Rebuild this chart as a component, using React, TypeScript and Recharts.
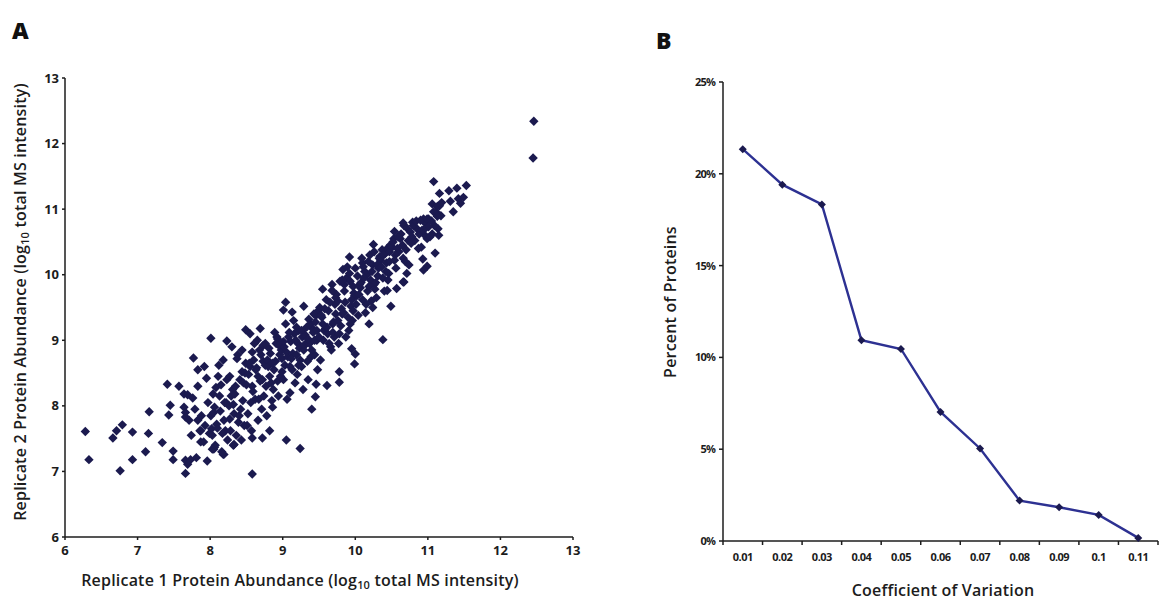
import React from 'react';
import { ScatterChart, Scatter, XAxis, YAxis, LineChart, Line } from 'recharts';

// panel A: replicate 1 vs replicate 2 abundance (log10)
const abundanceTicks = [6, 7, 8, 9, 10, 11, 12, 13];

const lowTailPoints: [number, number][] = [
  [6.28, 7.61], [6.33, 7.18], [6.66, 7.51], [6.71, 7.62], [6.79, 7.71], [6.76, 7.01], [6.93, 7.6], [6.93, 7.18],
  [7.15, 7.58], [7.11, 7.3], [7.16, 7.91], [7.34, 7.44], [7.41, 8.33], [7.45, 8.01], [7.43, 7.86], [7.57, 8.3],
  [7.49, 7.31], [7.49, 7.18], [7.64, 8.18], [7.69, 8.17], [7.64, 7.98], [7.66, 7.9], [7.66, 7.83], [7.66, 7.17],
  [7.73, 7.18], [7.81, 7.21], [7.69, 7.11], [7.66, 6.97], [7.96, 7.16], [8.03, 7.34], [8.06, 7.37], [8.18, 7.26],
  [8.32, 7.4], [7.87, 7.45], [7.87, 7.62], [7.83, 7.78], [8.58, 6.96], [8.01, 9.03], [8.23, 8.99], [7.77, 8.73],
  [7.83, 8.55], [7.92, 8.6], [8.49, 9.16], [8.55, 9.1], [8.69, 9.18], [8.33, 7.41], [8.19, 7.26], [8.05, 7.34],
  [8.58, 7.51], [8.72, 7.51], [8.82, 7.62], [9.05, 7.48], [9.24, 7.35], [9.4, 7.95], [9.46, 8.33], [9.61, 8.31],
  [9.45, 8.14], [9.78, 8.52], [9.78, 8.36],
];

const bandPoints: [number, number][] = [
  [7.74, 7.55], [7.71, 7.78], [7.79, 7.95], [7.76, 8.12], [7.86, 7.62], [7.83, 8.3], [7.91, 7.45], [7.88, 7.85],
  [7.97, 8.05], [7.93, 7.7], [7.95, 8.42], [7.99, 7.58],
  [8.07, 7.4], [8.02, 7.65], [8.14, 7.92], [8.04, 8.18], [8.11, 8.45], [8.19, 7.78], [8.03, 7.55], [8.22, 8.05],
  [8.16, 7.3], [8.08, 8.28], [8.01, 7.85], [8.21, 7.62], [8.12, 8.62], [8.06, 7.98], [8.24, 7.48], [8.13, 8.15],
  [8.09, 7.72], [8.23, 8.4], [8.17, 7.58], [8.05, 7.9], [8.18, 8.7], [8.2, 8.05], [8.1, 7.66], [8.15, 8.32],
  [8.31, 8.25], [8.27, 7.8], [8.44, 8.52], [8.36, 7.55], [8.26, 8.0], [8.38, 8.78], [8.47, 7.7], [8.29, 8.15],
  [8.41, 8.4], [8.33, 7.88], [8.49, 8.65], [8.28, 7.62], [8.45, 8.08], [8.35, 8.3], [8.42, 7.95], [8.3, 8.9],
  [8.39, 7.75], [8.48, 8.5], [8.34, 8.18], [8.43, 7.48], [8.37, 8.72], [8.32, 8.02], [8.46, 8.35], [8.4, 7.85],
  [8.27, 8.45], [8.44, 8.85],
  [8.55, 8.6], [8.62, 8.1], [8.51, 7.7], [8.68, 8.85], [8.58, 8.3], [8.71, 7.95], [8.53, 8.48], [8.65, 9.0],
  [8.74, 8.15], [8.57, 7.62], [8.6, 8.7], [8.69, 8.38], [8.52, 7.88], [8.73, 8.92], [8.63, 8.55], [8.56, 8.05],
  [8.7, 8.78], [8.59, 8.22], [8.66, 7.78], [8.54, 8.65], [8.72, 8.4], [8.61, 8.95], [8.67, 8.1], [8.64, 8.58],
  [8.5, 8.32], [8.73, 8.68], [8.58, 8.82], [8.66, 8.45],
  [8.83, 8.8], [8.77, 8.3], [8.92, 9.05], [8.86, 7.98], [8.76, 8.62], [8.97, 8.45], [8.81, 8.88], [8.94, 8.15],
  [8.79, 8.7], [8.89, 9.12], [8.99, 8.52], [8.78, 7.85], [8.91, 8.95], [8.84, 8.35], [8.96, 8.78], [8.8, 8.6],
  [8.93, 9.02], [8.87, 8.25], [8.98, 8.85], [8.82, 8.45], [8.9, 8.68], [8.85, 8.08], [8.95, 8.92], [8.88, 8.55],
  [8.76, 8.95], [8.99, 8.72], [8.86, 8.65], [8.93, 8.38],
  [9.07, 8.75], [9.01, 8.4], [9.16, 9.1], [9.03, 8.62], [9.21, 8.95], [9.1, 8.2], [9.05, 8.82], [9.19, 9.2],
  [9.13, 8.55], [9.02, 8.9], [9.24, 8.7], [9.08, 9.05], [9.17, 8.35], [9.11, 8.98], [9.22, 8.62], [9.04, 9.25],
  [9.14, 8.8], [9.2, 8.48], [9.09, 9.12], [9.23, 8.88], [9.06, 8.1], [9.18, 9.0], [9.12, 8.72], [9.15, 9.3],
  [9.01, 8.98], [9.22, 9.15], [9.1, 8.6], [9.19, 8.78],
  [9.32, 8.95], [9.26, 8.6], [9.41, 9.18], [9.29, 8.85], [9.46, 9.38], [9.35, 8.4], [9.27, 9.05], [9.44, 8.78],
  [9.38, 9.25], [9.3, 8.92], [9.49, 9.45], [9.34, 8.68], [9.42, 9.12], [9.28, 8.25], [9.47, 9.0], [9.36, 9.32],
  [9.4, 8.85], [9.33, 9.2], [9.48, 8.55], [9.31, 9.08], [9.43, 9.4], [9.37, 8.95], [9.45, 9.28], [9.39, 8.75],
  [9.26, 9.15], [9.47, 9.15], [9.35, 9.02], [9.44, 9.0],
  [9.57, 9.15], [9.51, 9.5], [9.66, 8.9], [9.54, 9.35], [9.71, 9.05], [9.6, 9.62], [9.52, 8.7], [9.69, 9.25],
  [9.63, 9.45], [9.56, 9.0], [9.74, 9.7], [9.59, 9.18], [9.67, 8.85], [9.53, 9.38], [9.72, 9.55], [9.62, 9.1],
  [9.55, 9.78], [9.7, 9.28], [9.64, 8.95], [9.58, 9.48], [9.73, 9.65], [9.61, 9.2], [9.68, 9.85], [9.5, 9.05],
  [9.65, 9.58], [9.73, 9.4], [9.55, 9.25], [9.69, 9.12],
  [9.82, 9.4], [9.76, 9.6], [9.91, 9.15], [9.79, 9.9], [9.96, 9.3], [9.85, 9.75], [9.77, 8.95], [9.94, 9.52],
  [9.88, 9.95], [9.8, 9.22], [9.99, 9.68], [9.84, 9.42], [9.92, 10.02], [9.78, 9.1], [9.97, 9.82], [9.86, 9.58],
  [9.9, 9.35], [9.83, 10.08], [9.98, 9.72], [9.81, 9.48], [9.93, 9.9], [9.87, 9.05], [9.95, 9.62], [9.89, 10.12],
  [9.76, 9.3], [9.97, 9.45], [9.85, 9.85], [9.93, 9.25],
  [10.07, 9.8], [10.01, 9.55], [10.16, 10.0], [10.04, 9.38], [10.21, 9.92], [10.1, 10.18], [10.02, 9.68], [10.19, 9.25],
  [10.13, 10.05], [10.06, 9.85], [10.24, 9.5], [10.09, 10.25], [10.17, 9.75], [10.03, 9.98], [10.22, 9.6], [10.11, 10.12],
  [10.14, 9.42], [10.2, 10.3], [10.08, 9.88], [10.23, 10.05], [10.05, 9.7], [10.18, 10.2], [10.12, 9.95], [10.15, 9.55],
  [10.0, 10.1], [10.24, 10.15], [10.1, 9.62], [10.19, 9.82],
  [10.32, 10.1], [10.26, 9.85], [10.41, 10.32], [10.29, 9.65], [10.46, 10.02], [10.35, 10.22], [10.27, 9.78], [10.44, 10.4],
  [10.38, 9.95], [10.3, 10.15], [10.49, 9.52], [10.34, 10.28], [10.42, 10.05], [10.28, 9.88], [10.47, 10.35], [10.36, 10.12],
  [10.4, 9.75], [10.33, 10.25], [10.48, 10.45], [10.31, 9.98], [10.43, 10.18], [10.37, 10.38], [10.45, 9.92], [10.39, 10.3],
  [10.26, 10.35], [10.47, 10.2],
  [10.56, 10.1], [10.51, 10.42], [10.66, 10.25], [10.53, 10.55], [10.71, 10.02], [10.6, 10.35], [10.52, 10.5], [10.69, 10.2],
  [10.63, 10.62], [10.58, 10.4], [10.74, 10.15], [10.62, 10.55], [10.55, 10.3], [10.72, 10.7], [10.65, 10.45], [10.59, 10.58],
  [10.7, 10.38], [10.67, 10.75], [10.54, 10.22], [10.73, 10.52],
  [10.82, 10.52], [10.76, 10.65], [10.91, 10.42], [10.79, 10.8], [10.96, 10.6], [10.85, 10.7], [10.77, 10.48], [10.94, 10.85],
  [10.88, 10.62], [10.8, 10.75], [10.99, 10.55], [10.84, 10.82], [10.92, 10.68], [10.87, 10.4], [10.97, 10.78], [10.78, 10.58],
  [11.06, 10.62], [11.01, 10.85], [11.14, 10.7], [11.03, 10.58], [11.18, 10.9], [11.09, 10.75], [11.16, 11.05], [11.05, 10.82],
  [11.12, 10.95], [11.19, 11.1],
];

const highTailPoints: [number, number][] = [
  [9.04, 9.58], [9.01, 9.46], [9.13, 9.43], [9.29, 9.52], [9.92, 10.27], [9.82, 9.92], [9.68, 9.76], [10.38, 9.01],
  [10.0, 8.79], [9.99, 8.64], [9.95, 8.87], [10.67, 9.89], [10.57, 9.79], [10.44, 9.76], [10.25, 10.46], [10.66, 9.89],
  [10.66, 10.79], [10.54, 10.66], [10.9, 10.83], [10.99, 10.85], [11.01, 10.73], [10.94, 10.68], [11.15, 10.6], [11.1, 10.33],
  [10.93, 10.24], [10.99, 10.13], [10.94, 10.07], [11.08, 11.42], [11.16, 11.24], [11.29, 11.28], [11.4, 11.32], [11.53, 11.36],
  [11.31, 11.12], [11.42, 11.16], [11.49, 11.18], [11.45, 11.09], [11.35, 10.96], [11.06, 11.08], [11.13, 11.04], [11.08, 10.96],
  [11.13, 10.89], [12.45, 11.78], [12.46, 12.34],
];

// panel B: coefficient of variation distribution
const cvValues = [0.01, 0.02, 0.03, 0.04, 0.05, 0.06, 0.07, 0.08, 0.09, 0.1, 0.11];
const cvLabels = ['0.01', '0.02', '0.03', '0.04', '0.05', '0.06', '0.07', '0.08', '0.09', '0.1', '0.11'];
const percentProteins = [21.34, 19.41, 18.33, 10.94, 10.46, 7.03, 5.04, 2.2, 1.84, 1.42, 0.17];
const percentTicks = [0, 5, 10, 15, 20, 25];

const scatterData = [...lowTailPoints, ...bandPoints, ...highTailPoints].map(([x, y]) => ({ x, y }));
const cvData = cvValues.map((cv, i) => ({ cv, pct: percentProteins[i] }));

const FONT = '"Open Sans", "Liberation Sans", sans-serif';
const INK = '#1c1c1c';
const MARK = '#1b1a4f';

const Diamond = (props: any) => {
  const { cx, cy } = props;
  const r = 4.7;
  return <polygon points={`${cx},${cy - r} ${cx + r},${cy} ${cx},${cy + r} ${cx - r},${cy}`} fill={MARK} />;
};

const SmallDiamond = (props: any) => {
  const { cx, cy, index } = props;
  const r = 4;
  return <polygon key={index} points={`${cx},${cy - r} ${cx + r},${cy} ${cx},${cy + r} ${cx - r},${cy}`} fill={MARK} />;
};

const HALF_BAND = 435 / 22;

const CvTick = (props: any) => {
  const { x, y, payload, index } = props;
  const label = cvLabels[cvValues.indexOf(payload.value)] ?? String(payload.value);
  return (
    <g>
      {index === 0 && <line x1={x - HALF_BAND} x2={x - HALF_BAND} y1={y} y2={y + 4} stroke={INK} strokeWidth={1.5} />}
      <line x1={x + HALF_BAND} x2={x + HALF_BAND} y1={y} y2={y + 4} stroke={INK} strokeWidth={1.5} />
      <text x={x} y={y + 20} textAnchor="middle" fontSize={11} fontWeight={700} fill={INK} fontFamily={FONT} letterSpacing={-0.5}>
        {label}
      </text>
    </g>
  );
};

const titleStyle: React.CSSProperties = {
  position: 'absolute',
  fontFamily: FONT,
  fontWeight: 600,
  fontSize: 16,
  color: INK,
  letterSpacing: 0.2,
  whiteSpace: 'nowrap',
  textAlign: 'center',
  lineHeight: '20px',
  height: 20,
};

const Sub10 = () => <span style={{ fontSize: 11, position: 'relative', top: 3 }}>10</span>;

export default function App() {
  return (
    <div style={{ position: 'absolute', left: 0, top: 0, width: 1159, height: 603, background: '#fff', overflow: 'hidden' }}>
      <div style={{ position: 'absolute', left: 12, top: 14, fontFamily: FONT, fontWeight: 800, fontSize: 23, color: '#111' }}>A</div>
      <div style={{ position: 'absolute', left: 656, top: 24, fontFamily: FONT, fontWeight: 800, fontSize: 23, color: '#111' }}>B</div>

      <div style={{ position: 'absolute', left: 0, top: 0 }}>
        <ScatterChart width={600} height={603} margin={{ top: 78, right: 27, bottom: 26, left: 25 }}>
          <XAxis
            type="number"
            dataKey="x"
            domain={[6, 13]}
            ticks={abundanceTicks}
            height={40}
            tickSize={3}
            tickMargin={6}
            axisLine={{ stroke: INK, strokeWidth: 1.5 }}
            tickLine={{ stroke: INK, strokeWidth: 1.5 }}
            tick={{ fontSize: 13, fontWeight: 700, fill: INK, fontFamily: FONT }}
          />
          <YAxis
            type="number"
            dataKey="y"
            domain={[6, 13]}
            ticks={abundanceTicks}
            width={40}
            tickSize={3}
            tickMargin={3}
            axisLine={{ stroke: INK, strokeWidth: 1.5 }}
            tickLine={{ stroke: INK, strokeWidth: 1.5 }}
            tick={{ fontSize: 13, fontWeight: 700, fill: INK, fontFamily: FONT }}
          />
          <Scatter data={scatterData} shape={<Diamond />} isAnimationActive={false} />
        </ScatterChart>
      </div>

      <div style={{ ...titleStyle, left: 60, top: 570, width: 480 }}>
        Replicate 1 Protein Abundance (log<Sub10 /> total MS intensity)
      </div>
      <div style={{ ...titleStyle, left: 20 - 240, top: 302 - 10, width: 480, transform: 'rotate(-90deg)' }}>
        Replicate 2 Protein Abundance (log<Sub10 /> total MS intensity)
      </div>

      <div style={{ position: 'absolute', left: 620, top: 0 }}>
        <LineChart width={539} height={603} data={cvData} margin={{ top: 82, right: 1, bottom: 22, left: 63 }}>
          <XAxis
            type="number"
            dataKey="cv"
            domain={[0.005, 0.115]}
            ticks={cvValues}
            height={40}
            tickSize={0}
            tickMargin={0}
            tickLine={false}
            axisLine={{ stroke: INK, strokeWidth: 1.5 }}
            tick={<CvTick />}
          />
          <YAxis
            type="number"
            domain={[0, 25]}
            ticks={percentTicks}
            width={40}
            tickSize={4}
            tickMargin={4}
            tickFormatter={(v: number) => `${v}%`}
            axisLine={{ stroke: INK, strokeWidth: 1.5 }}
            tickLine={{ stroke: INK, strokeWidth: 1.5 }}
            tick={{ fontSize: 11, fontWeight: 700, fill: INK, fontFamily: FONT, letterSpacing: -0.8 }}
          />
          <Line type="linear" dataKey="pct" stroke="#2d3192" strokeWidth={2.4} dot={<SmallDiamond />} isAnimationActive={false} />
        </LineChart>
      </div>

      <div style={{ ...titleStyle, left: 843, top: 580, width: 200 }}>Coefficient of Variation</div>
      <div style={{ ...titleStyle, left: 670 - 100, top: 302 - 10, width: 200, transform: 'rotate(-90deg)' }}>
        Percent of Proteins
      </div>
    </div>
  );
}
